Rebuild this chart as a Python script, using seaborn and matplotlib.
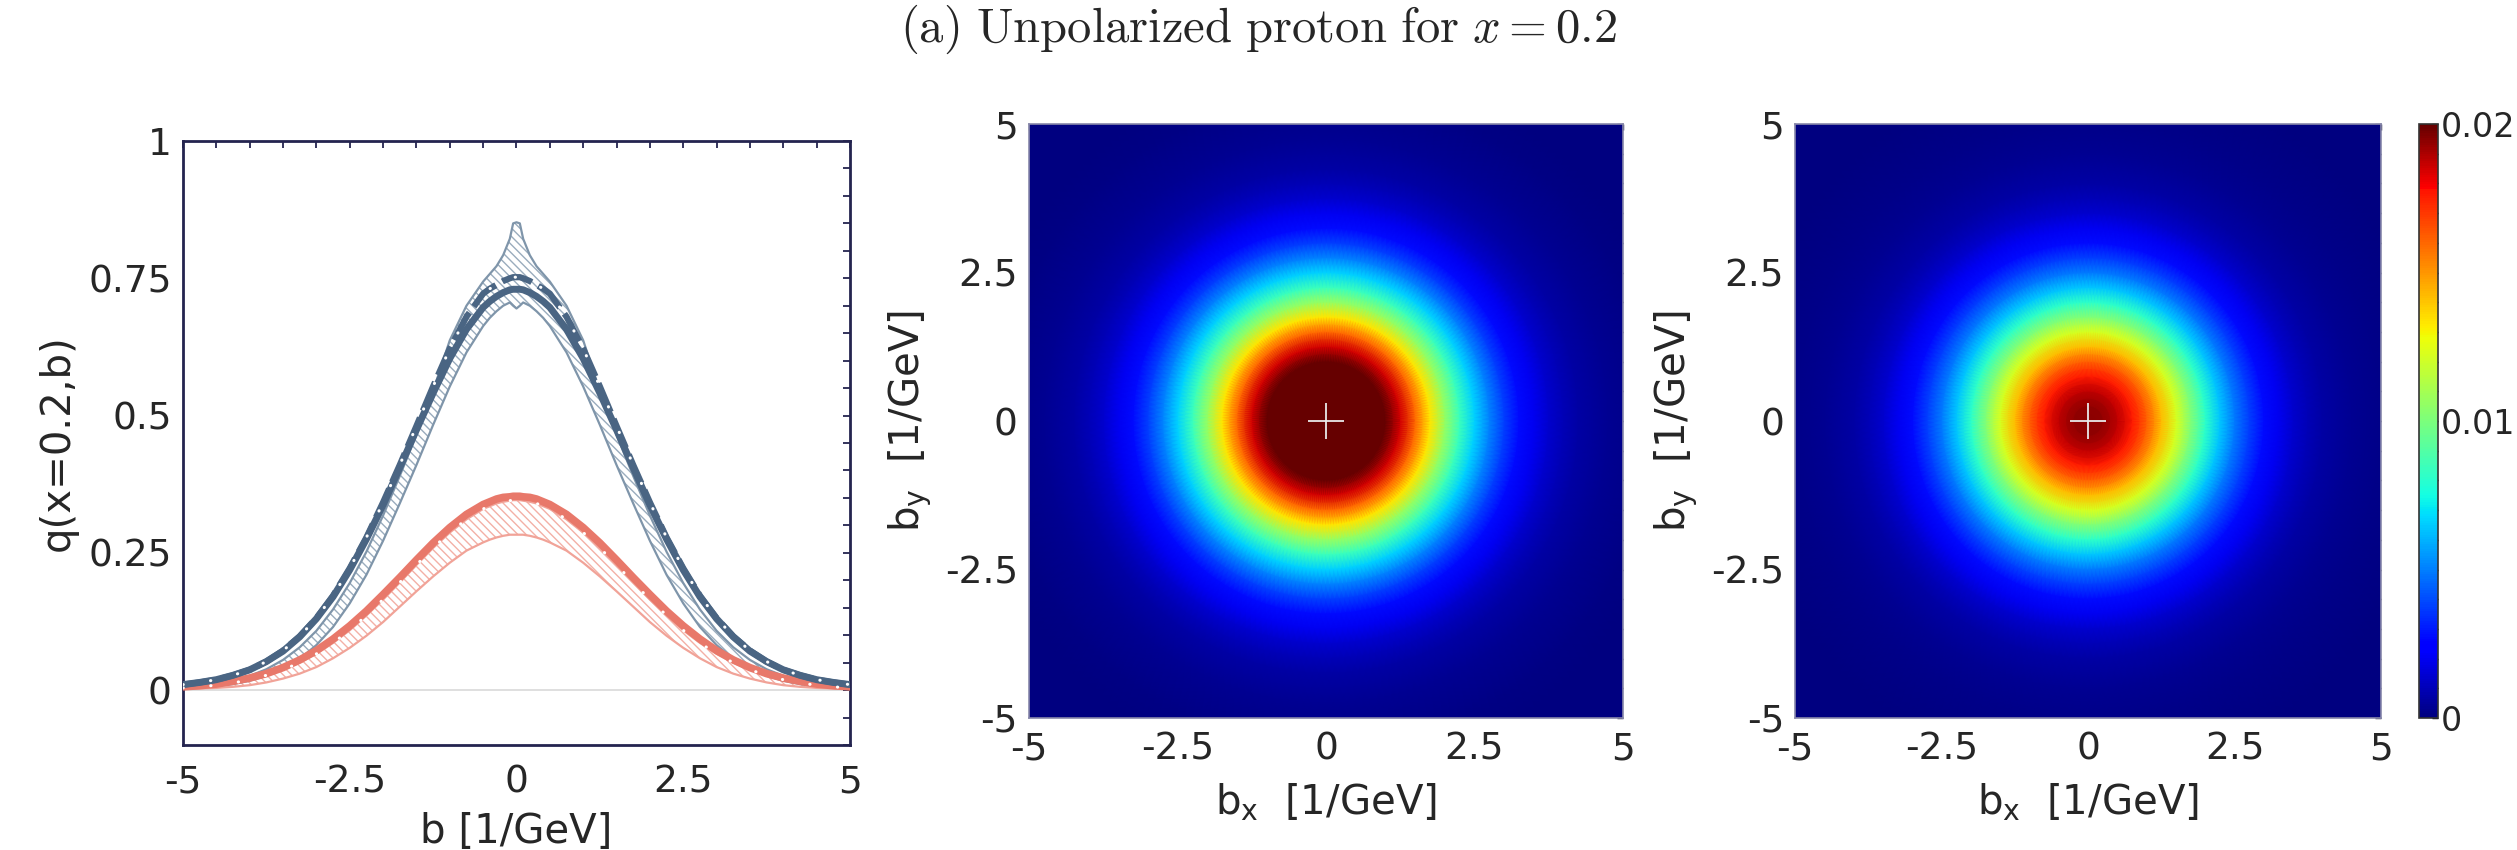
import numpy as np
import pandas as pd
import matplotlib
matplotlib.use("Agg")
import matplotlib.pyplot as plt
import seaborn as sns
from matplotlib.colors import ListedColormap
from matplotlib.ticker import MultipleLocator, FixedLocator

# ---------------------------------------------------------------------------
# Left panel: q(x=0.2, b) profiles, tabulated for b >= 0 (even in b)
# ---------------------------------------------------------------------------
b_half = [0.0, 0.05, 0.1, 0.2, 0.3, 0.4, 0.5, 0.75, 1.0, 1.25, 1.5, 1.75, 2.0,
          2.25, 2.5, 2.75, 3.0, 3.25, 3.5, 3.75, 4.0, 4.25, 4.5, 4.75, 5.0]

u_central = [0.730, 0.730, 0.729, 0.724, 0.717, 0.708, 0.697, 0.657, 0.604,
             0.541, 0.474, 0.405, 0.337, 0.275, 0.219, 0.170, 0.130, 0.097,
             0.071, 0.052, 0.037, 0.027, 0.019, 0.014, 0.010]
u_alt = [0.752, 0.752, 0.750, 0.745, 0.738, 0.731, 0.722, 0.680, 0.622,
         0.553, 0.481, 0.410, 0.342, 0.278, 0.222, 0.172, 0.131, 0.098,
         0.072, 0.052, 0.037, 0.027, 0.019, 0.014, 0.010]
u_band_hi = [0.852, 0.850, 0.822, 0.792, 0.772, 0.758, 0.744, 0.700, 0.637,
             0.545, 0.465, 0.390, 0.318, 0.252, 0.195, 0.147, 0.108, 0.078,
             0.055, 0.038, 0.026, 0.018, 0.012, 0.008, 0.005]
u_band_lo = [0.695, 0.700, 0.706, 0.700, 0.690, 0.678, 0.663, 0.615, 0.553,
             0.483, 0.410, 0.340, 0.272, 0.210, 0.158, 0.115, 0.082, 0.057,
             0.039, 0.026, 0.017, 0.011, 0.007, 0.004, 0.003]

d_central = [0.353, 0.353, 0.352, 0.351, 0.348, 0.343, 0.338, 0.320, 0.296,
             0.268, 0.237, 0.205, 0.174, 0.144, 0.117, 0.093, 0.072, 0.055,
             0.041, 0.030, 0.022, 0.016, 0.011, 0.008, 0.006]
d_band_hi = [0.346, 0.346, 0.345, 0.343, 0.340, 0.335, 0.330, 0.311, 0.287,
             0.259, 0.228, 0.196, 0.165, 0.136, 0.109, 0.086, 0.066, 0.050,
             0.037, 0.027, 0.019, 0.013, 0.009, 0.006, 0.004]
d_band_lo = [0.283, 0.283, 0.283, 0.281, 0.278, 0.274, 0.269, 0.254, 0.232,
             0.207, 0.180, 0.152, 0.124, 0.099, 0.077, 0.058, 0.042, 0.030,
             0.021, 0.014, 0.009, 0.006, 0.004, 0.003, 0.002]

x_ticks = [-5, -2.5, 0, 2.5, 5]
x_ticklabels = ["-5", "-2.5", "0", "2.5", "5"]
q_ticks = [0, 0.25, 0.5, 0.75, 1]
q_ticklabels = ["0", "0.25", "0.5", "0.75", "1"]

# ---------------------------------------------------------------------------
# Density maps: radial profiles rho(|b|) for the two transverse maps
# ---------------------------------------------------------------------------
r_grid = [0.0, 0.25, 0.5, 0.75, 1.0, 1.25, 1.5, 1.75, 2.0, 2.25, 2.5, 2.75,
          3.0, 3.25, 3.5, 3.75, 4.0, 4.25, 4.5, 4.75, 5.0, 5.5, 6.0, 6.5,
          7.0, 7.5]
rho_left = [0.034, 0.033, 0.030, 0.026, 0.0215, 0.0185, 0.0160, 0.0133,
            0.0106, 0.0084, 0.0066, 0.0050, 0.0037, 0.0027, 0.0020, 0.0014,
            0.0010, 0.0007, 0.0005, 0.00035, 0.00025, 0.00013, 0.00007,
            0.00004, 0.00002, 0.00001]
rho_right = [0.0195, 0.0193, 0.0187, 0.0176, 0.0161, 0.0142, 0.0122, 0.0101,
             0.0081, 0.0064, 0.0049, 0.0037, 0.0027, 0.0020, 0.0014, 0.0010,
             0.0007, 0.0005, 0.00035, 0.00025, 0.00017, 0.00008, 0.00004,
             0.00002, 0.00001, 0.00001]
cbar_ticks = [0, 0.01, 0.02]
cbar_ticklabels = ["0", "0.01", "0.02"]

# ---------------------------------------------------------------------------
sns.set_style("white")
plt.rcParams["font.family"] = ["DejaVu Sans"]
plt.rcParams["axes.unicode_minus"] = False
plt.rcParams["hatch.linewidth"] = 1.0

BLUE = "#4a6583"
BLUE_THIN = "#7f95aa"
BLUE_HATCH = "#9aacbd"
RED = "#e8786a"
RED_THIN = "#f1a398"
RED_HATCH = "#f3b0a6"
FRAME = "#24244f"

TICK_FS = 27
LABEL_FS = 29

# jet-like palette whose top end runs into a deeper maroon
_jet = plt.get_cmap("jet")(np.linspace(0, 1, 256))
_top = _jet[:, :3].copy()
_idx = np.arange(256) >= 228
_frac = (np.arange(256)[_idx] - 228) / (255 - 228)
_top[_idx, 0] = 1.0 - 0.6 * _frac
_top[_idx, 1] = 0.0
_top[_idx, 2] = 0.0
density_cmap = ListedColormap(_top, name="jet_maroon")

fig = plt.figure(figsize=(25.17, 8.5), dpi=100)


def mirrored(values):
    """Extend a b >= 0 profile to the symmetric range -5..5."""
    b = np.asarray(b_half)
    v = np.asarray(values)
    return np.concatenate([-b[:0:-1], b]), np.concatenate([v[:0:-1], v])


# ---------------- left panel ----------------
ax1 = fig.add_axes([0.0727, 0.1235, 0.2650, 0.7106])
ax1.axhline(0, color="#d9d9d9", lw=1.2, zorder=0)

bb, hi = mirrored(u_band_hi)
_, lo = mirrored(u_band_lo)
ax1.fill_between(bb, lo, hi, facecolor="none", edgecolor=BLUE_HATCH,
                 hatch="\\\\\\\\", linewidth=0, zorder=1)
_, dhi = mirrored(d_band_hi)
_, dlo = mirrored(d_band_lo)
ax1.fill_between(bb, dlo, dhi, facecolor="none", edgecolor=RED_HATCH,
                 hatch="\\\\\\\\", linewidth=0, zorder=1)

frame = {}
for name, vals in [("u_central", u_central), ("u_alt", u_alt),
                   ("u_band_hi", u_band_hi), ("u_band_lo", u_band_lo),
                   ("d_central", d_central), ("d_band_hi", d_band_hi),
                   ("d_band_lo", d_band_lo)]:
    x, y = mirrored(vals)
    frame[name] = pd.DataFrame({"b": x, "q": y})

# band edges
for name, col in [("u_band_hi", BLUE_THIN), ("u_band_lo", BLUE_THIN),
                  ("d_band_hi", RED_THIN), ("d_band_lo", RED_THIN)]:
    sns.lineplot(data=frame[name], x="b", y="q", ax=ax1, color=col,
                 linewidth=1.6, sort=False, zorder=2)

# central curves
sns.lineplot(data=frame["d_central"], x="b", y="q", ax=ax1, color=RED,
             linewidth=5.5, sort=False, zorder=3)
sns.lineplot(data=frame["u_central"], x="b", y="q", ax=ax1, color=BLUE,
             linewidth=5, sort=False, zorder=3)
sns.lineplot(data=frame["u_alt"], x="b", y="q", ax=ax1, color=BLUE,
             linewidth=4.5, sort=False, zorder=4)
ax1.lines[-1].set_dashes([5, 1.2])

# white dotted guides on the central curves
for name in ["u_alt", "d_band_hi"]:
    sns.lineplot(data=frame[name], x="b", y="q", ax=ax1, color="white",
                 linewidth=2.2, sort=False, zorder=5)
    ln = ax1.lines[-1]
    ln.set_dashes([0.1, 9])
    ln.set_dash_capstyle("round")

ax1.set_xlim(-5, 5)
ax1.set_ylim(-0.1, 1)
ax1.xaxis.set_major_locator(FixedLocator(x_ticks))
ax1.set_xticklabels(x_ticklabels)
ax1.yaxis.set_major_locator(FixedLocator(q_ticks))
ax1.set_yticklabels(q_ticklabels)
ax1.xaxis.set_minor_locator(MultipleLocator(0.5))
ax1.yaxis.set_minor_locator(MultipleLocator(0.05))
ax1.tick_params(which="both", direction="in", top=True, right=True,
                color=FRAME, width=1.3, length=5, labelsize=TICK_FS)
ax1.tick_params(axis="x", pad=14)
ax1.tick_params(axis="y", pad=8)
for s in ax1.spines.values():
    s.set_color(FRAME)
    s.set_linewidth(2)
ax1.set_xlabel("b [1/GeV]", fontsize=LABEL_FS, labelpad=8)
ax1.set_ylabel("q(x=0.2,b)", fontsize=LABEL_FS, labelpad=8)

# ---------------- density maps ----------------
theta = np.linspace(0, 2 * np.pi, 241)
R, T = np.meshgrid(np.asarray(r_grid), theta)
X = R * np.cos(T)
Y = R * np.sin(T)

positions = [[0.4088, 0.1553, 0.2360, 0.6988],
             [0.7132, 0.1553, 0.2328, 0.6988]]
mesh = None
for pos, prof in zip(positions, [rho_left, rho_right]):
    ax = fig.add_axes(pos)
    C = np.tile(np.asarray(prof), (len(theta), 1))
    mesh = ax.pcolormesh(X, Y, C, shading="gouraud", cmap=density_cmap,
                         vmin=0, vmax=0.02, rasterized=True)
    ax.plot([0], [0], marker="+", color="#e8e8e8", markersize=26,
            markeredgewidth=1.3, zorder=5)
    ax.set_xlim(-5, 5)
    ax.set_ylim(-5, 5)
    ax.xaxis.set_major_locator(FixedLocator(x_ticks))
    ax.set_xticklabels(x_ticklabels)
    ax.yaxis.set_major_locator(FixedLocator(x_ticks))
    ax.set_yticklabels(x_ticklabels)
    ax.xaxis.set_minor_locator(MultipleLocator(0.5))
    ax.yaxis.set_minor_locator(MultipleLocator(0.5))
    ax.tick_params(which="both", direction="in", top=True, right=True,
                   color="#111133", width=1.0, length=4, labelsize=TICK_FS)
    ax.tick_params(axis="x", pad=10)
    ax.tick_params(axis="y", pad=8)
    for s in ax.spines.values():
        s.set_color("#8888aa")
        s.set_linewidth(1.2)
    ax.set_xlabel(r"b$_{\mathregular{x}}$  [1/GeV]", fontsize=LABEL_FS,
                  labelpad=10)
    ax.set_ylabel(r"b$_{\mathregular{y}}$  [1/GeV]", fontsize=LABEL_FS,
                  labelpad=8)

cax = fig.add_axes([0.9611, 0.1553, 0.0076, 0.6988])
cb = fig.colorbar(mesh, cax=cax, ticks=cbar_ticks)
cb.ax.set_yticklabels(cbar_ticklabels)
cb.ax.yaxis.set_minor_locator(MultipleLocator(0.001))
cb.ax.tick_params(which="both", direction="in", color="black", width=1.0,
                  length=4, labelsize=24, pad=2)
cb.outline.set_edgecolor("#333333")
cb.outline.set_linewidth(1.2)

fig.text(0.5, 0.965, r"$\mathrm{(a)\ Unpolarized\ proton\ for\ }x = 0.2$",
         ha="center", va="center", fontsize=35, math_fontfamily="cm")

fig.savefig("out.png", dpi=100, facecolor="white")
